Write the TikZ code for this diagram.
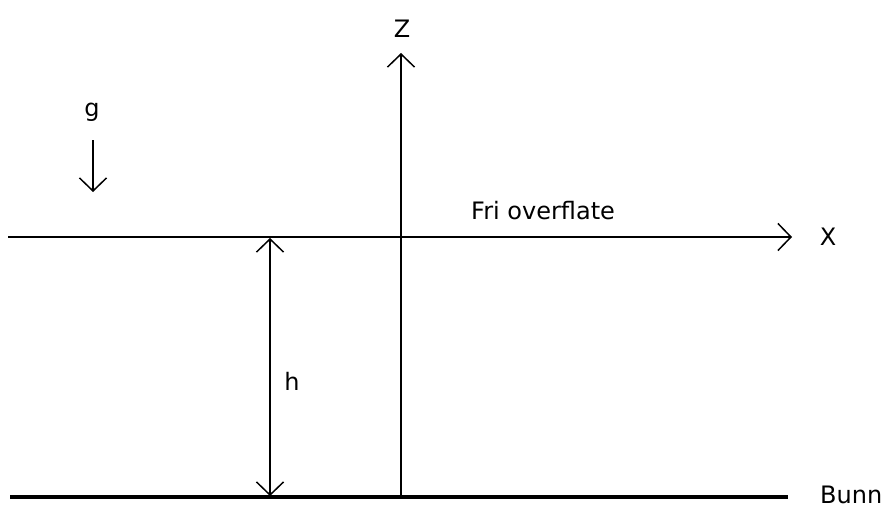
\documentclass[tikz,border=0pt]{standalone}
\usepackage{fontspec}
\setmainfont{DejaVu Sans}
\usetikzlibrary{arrows.meta}
\begin{document}
\begin{tikzpicture}[x=1pt,y=-1pt,
  axis/.style={line width=1.5pt,-{Straight Barb[length=13pt,width=27pt,line width=1.5pt]}},
  dim/.style={line width=1.5pt,{Straight Barb[length=13pt,width=27pt,line width=1.5pt]}-{Straight Barb[length=13pt,width=27pt,line width=1.5pt]}},
  lbl/.style={font=\fontsize{24}{27}\selectfont,inner sep=0pt,anchor=base}]
\useasboundingbox (0,0) rectangle (893,508);
% ground line
\coordinate (bl) at (10,497);
\coordinate (br) at (788,497);
\draw[line width=4.8pt] (bl) -- (br);
\node[lbl,anchor=base west] (bunn) at (820,503) {Bunn};
% x axis
\coordinate (xl) at (8,237);
\coordinate (xr) at (792,237);
\draw[axis] (xl) -- (xr);
\node[lbl] (xlab) at (828,245) {X};
% z axis
\coordinate (zb) at (401,497);
\coordinate (zt) at (401,53);
\draw[axis] (zb) -- (zt);
\node[lbl] (zlab) at (402,38) {Z};
% surface label
\node[lbl,anchor=base west] (fri) at (471,219) {Fri overflate};
% gravity
\node[lbl] (g) at (92,117) {g};
\coordinate (gt) at (93,140);
\coordinate (gb) at (93,192);
\draw[axis] (gt) -- (gb);
% depth
\coordinate (ht) at (270,238);
\coordinate (hb) at (270,496);
\draw[dim] (ht) -- (hb);
\node[lbl] (h) at (292,390) {h};
\end{tikzpicture}
\end{document}
